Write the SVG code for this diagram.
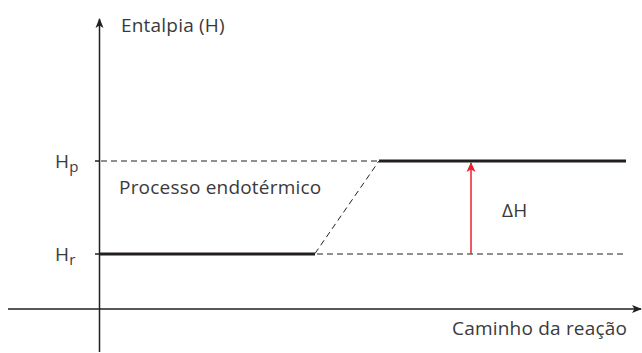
<svg xmlns="http://www.w3.org/2000/svg" width="642" height="353" viewBox="0 0 642 353">
<defs>
<marker id="ab" markerWidth="10" markerHeight="10" refX="9" refY="5" orient="auto" markerUnits="userSpaceOnUse"><path d="M0,1 L10,5 L0,9 L2.5,5 Z" fill="#231f20"/></marker>
<marker id="ar" markerWidth="10" markerHeight="12" refX="9" refY="5" orient="auto" markerUnits="userSpaceOnUse"><path d="M0,0.5 L10,5 L0,9.5 L2.5,5 Z" fill="#e8202f"/></marker>
<style>
text{font-family:"Open Sans","Noto Sans",sans-serif;fill:#3a3a3a;font-size:19px;letter-spacing:0.2px}
.ax{stroke:#231f20;stroke-width:1.5;fill:none}
.th{stroke:#231f20;stroke-width:3;fill:none}
.da{stroke:#231f20;stroke-width:1;stroke-dasharray:6,4;fill:none}
</style>
</defs>
<g id="axes">
<line class="ax" x1="99.5" y1="352" x2="99.5" y2="19" marker-end="url(#ab)"/>
<line class="ax" x1="8" y1="309" x2="641" y2="309" marker-end="url(#ab)"/>
<line class="ax" x1="95" y1="161" x2="99.5" y2="161"/>
<line class="ax" x1="95" y1="254" x2="99.5" y2="254"/>
</g>
<g id="connectors">
<line class="da" x1="101" y1="161" x2="378" y2="161"/>
<line class="da" x1="317" y1="254" x2="626" y2="254"/>
<line class="da" x1="315" y1="253.5" x2="379" y2="161"/>
<line stroke="#e8202f" stroke-width="1.5" x1="471" y1="254" x2="471" y2="163" marker-end="url(#ar)"/>
</g>
<g id="reagentes"><line class="th" x1="99.5" y1="254" x2="315" y2="254"/></g>
<g id="produtos"><line class="th" x1="379" y1="161" x2="626" y2="161"/></g>
<g id="labels">
<text x="121" y="32">Entalpia (H)</text>
<text x="55" y="168">H<tspan font-size="15" dy="4">p</tspan></text>
<text x="55" y="261">H<tspan font-size="15" dy="4">r</tspan></text>
<text x="119" y="194">Processo endotérmico</text>
<text x="502" y="217" font-size="21">ΔH</text>
<text x="452" y="335">Caminho da reação</text>
</g>
</svg>
